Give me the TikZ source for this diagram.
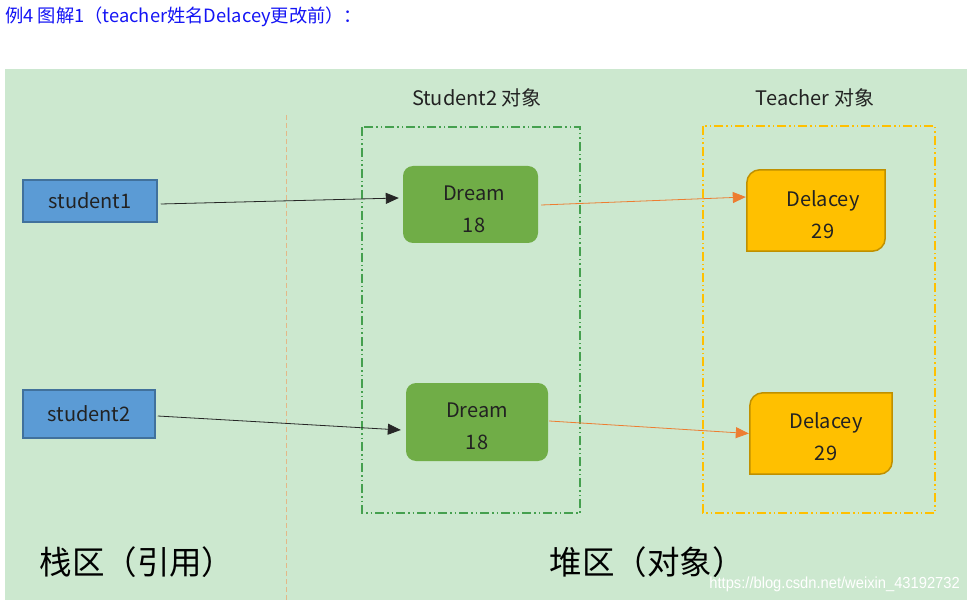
\documentclass[tikz,border=0pt]{standalone}
\usepackage{fontspec}
\setmainfont{Noto Sans CJK SC}
\newfontfamily\wmfont{Liberation Sans}
\usetikzlibrary{arrows.meta}
\definecolor{panel}{HTML}{CCE8CF}
\definecolor{stufill}{HTML}{5B9BD5}
\definecolor{stuline}{HTML}{41719C}
\definecolor{dreamfill}{HTML}{70AD47}
\definecolor{tfill}{HTML}{FFC000}
\definecolor{tline}{HTML}{BF9000}
\definecolor{gbox}{HTML}{45A04F}
\definecolor{ybox}{HTML}{FFC000}
\definecolor{divc}{HTML}{E3B888}
\definecolor{orangearrow}{HTML}{ED7D31}
\definecolor{txt}{HTML}{222222}
\definecolor{titleblue}{HTML}{1414F5}
\tikzset{
  stubox/.style={draw=stuline, line width=1.5pt, fill=stufill, minimum width=134pt, minimum height=42pt, inner sep=0pt, font=\fontsize{20}{22}\selectfont, text=txt},
  dreambox/.style={fill=dreamfill, rounded corners=10pt, inner sep=0pt},
  tarea/.style={inner sep=0pt},
  tshape/.style={fill=tfill, draw=tline, line width=1.5pt},
  boxtext/.style={align=center, font=\fontsize{20}{32}\selectfont, text=txt, inner sep=0pt},
  caption/.style={font=\fontsize{20}{22}\selectfont, text=txt},
  bigcap/.style={font=\fontsize{32.5}{36}\selectfont, text=black},
  gdash/.style={draw=gbox, line width=1.3pt, dash pattern=on 9pt off 3pt on 1.5pt off 3pt on 1.5pt off 3pt},
  ydash/.style={draw=ybox, line width=1.6pt, dash pattern=on 9pt off 3pt on 1.5pt off 3pt on 1.5pt off 3pt},
  blkarrow/.style={draw=black!85, line width=0.8pt, -{Triangle[length=13pt,width=11pt]}},
  orarrow/.style={draw=orangearrow, line width=0.8pt, -{Triangle[length=13pt,width=11pt]}, orangearrow}
}
\begin{document}
\begin{tikzpicture}[x=1pt,y=-1pt]
\useasboundingbox[fill=white] (0,0) rectangle (970,604);
\fill[panel] (5,69) rectangle (967,600);
\node[anchor=west, inner sep=0pt, font=\fontsize{18.3}{20}\selectfont, text=titleblue] (title) at (5,17) {例4 图解1（teacher姓名Delacey更改前）：};
\draw[divc, line width=1pt, dash pattern=on 5pt off 3pt] (286,115) -- (286,600);
% containers
\draw[gdash] (362,127) rectangle (580,513);
\draw[ydash] (703,126) rectangle (935,513);
\node[caption] (cap1) at (477,98) {Student2 对象};
\node[caption] (cap2) at (815,98) {Teacher 对象};
% stack
\node[stubox] (s1) at (90,201) {student1};
\node[stubox, minimum width=132pt, minimum height=48pt] (s2) at (89,414) {student2};
% student objects
\node[dreambox, minimum width=135pt, minimum height=77pt] (dr1) at (470.5,204.5) {};
\node[boxtext] (dr1t) at (474,209) {Dream\\18};
\node[dreambox, minimum width=142pt, minimum height=78pt] (dr2) at (477,422) {};
\node[boxtext] (dr2t) at (477,426.5) {Dream\\18};
% teacher objects
\node[tarea, minimum width=138pt, minimum height=81pt] (tc1) at (816,210.5) {};
\filldraw[tshape] (tc1.south west) [rounded corners=13pt] -- (tc1.north west) [sharp corners] -- (tc1.north east) [rounded corners=13pt] -- (tc1.south east) [sharp corners] -- cycle;
\node[boxtext] (tc1t) at (823,215) {Delacey\\29};
\node[tarea, minimum width=142pt, minimum height=81pt] (tc2) at (821,433.5) {};
\filldraw[tshape] (tc2.south west) [rounded corners=13pt] -- (tc2.north west) [sharp corners] -- (tc2.north east) [rounded corners=13pt] -- (tc2.south east) [sharp corners] -- cycle;
\node[boxtext] (tc2t) at (826,436.5) {Delacey\\29};
% arrows
\draw[blkarrow] ([xshift=3pt,yshift=-3pt]s1.east) -- ([xshift=-4pt,yshift=6.5pt]dr1.west);
\draw[blkarrow] ([xshift=2pt,yshift=-2pt]s2.east) -- ([xshift=-5pt,yshift=-8pt]dr2.west);
\draw[orarrow] ([xshift=3pt,yshift=-0.5pt]dr1.east) -- ([xshift=-1pt,yshift=13.5pt]tc1.west);
\draw[orarrow] ([xshift=1pt,yshift=1pt]dr2.east) -- ([xshift=-1pt]tc2.west);
% bottom captions
\node[bigcap] (stack) at (137,562) {栈区（引用）};
\node[bigcap] (heap) at (647,562) {堆区（对象）};
\node[anchor=east, inner sep=0pt, font=\wmfont\fontsize{16}{18}\selectfont, text=white, xscale=0.92] (wm) at (960,584) {https://blog.csdn.net/weixin\_43192732};
\end{tikzpicture}
\end{document}
